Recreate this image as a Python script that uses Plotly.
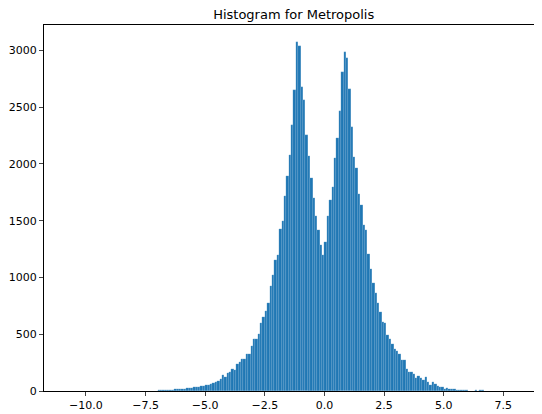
import numpy as np
import plotly.graph_objects as go

bin_start = -10.8
bin_width = 0.1

left_far = [0,0,0,0,0,0,0,1,0,0,0,0,0,1,0,0,0,0,1,0,0,0,0,0,1,4,0,1,0,1,1,0,2,1,2,2,3,4]
left_tail = [5,6,8,7,10,9,12,14,15,14,18,22,24,26,30,33,36,38,44,46,50,55,62,70,82,87,102,140,125,155,169,198,184,240]
central = [257,280,286,329,329,394,461,455,504,603,650,708,773,927,1020,1151,1195,1423,1495,1720,1895,2078,2341,2653,3070,
           3035,2682,2560,2253,2073,1874,1700,1545,1417,1286,1195,1315,
           1540,1680,1793,2055,2230,2463,2813,2988,2933,2656,2326,2064,
           1968,1737,1635,1463,1417,1204,1076,950,863,773,694,612,601,
           490,455,411,373,353,324,271,271,198,169,169,149]
right_tail = [117,134,111,96,120,79,52,82,58,41,32,32,20,26,17,17,15,12,9,9,6,6,3,3,3,9,3,6,9,3,2,2,1,2,1,1,1,0,1,0,0,1,0]

counts = left_far + left_tail + central + right_tail
centers = bin_start + bin_width * (np.arange(len(counts)) + 0.5)

x_ticks = [-10.0, -7.5, -5.0, -2.5, 0.0, 2.5, 5.0, 7.5]
x_labels = [f"{v:.1f}".replace("-", "\u2212") for v in x_ticks]
y_ticks = [0, 500, 1000, 1500, 2000, 2500, 3000]

fig = go.Figure(go.Bar(x=centers, y=counts, width=bin_width,
                       marker=dict(color="#1f77b4", line=dict(width=0.3, color="rgba(255,255,255,0.35)"))))
fig.update_layout(
    width=534, height=406, template="simple_white", bargap=0,
    margin=dict(l=36, r=2, t=17, b=23, autoexpand=False),
    font=dict(family="DejaVu Sans", size=11, color="black"),
    title=dict(text="Histogram for Metropolis", x=0.535, xanchor="center", y=0.995, yanchor="top",
               font=dict(size=13)),
    showlegend=False,
)
fig.update_xaxes(range=[-11.76, 9.04], tickvals=x_ticks, ticktext=x_labels, ticks="outside", ticklen=4,
                 showline=True, mirror=True, linecolor="black", linewidth=1, showgrid=False, zeroline=False)
fig.update_yaxes(range=[0, 3224], tickvals=y_ticks, ticks="outside", ticklen=4,
                 showline=True, mirror=True, linecolor="black", linewidth=1, showgrid=False, zeroline=False)
fig.write_html("out.html")
